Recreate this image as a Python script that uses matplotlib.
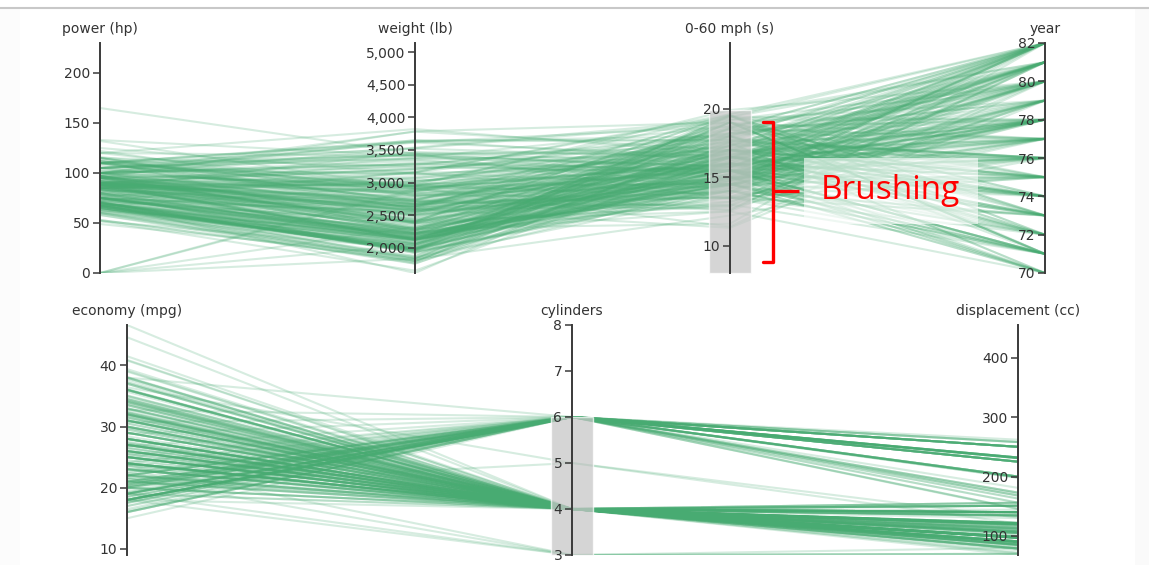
import matplotlib
matplotlib.use('Agg')
import matplotlib.pyplot as plt
from matplotlib.collections import LineCollection
from matplotlib.patches import Rectangle
from matplotlib.lines import Line2D
from matplotlib.ticker import FuncFormatter, FixedLocator
import numpy as np

# ---------------- data (cars with 3-6 cylinders, 0-60 mph <= ~20 s) ----------------
economy = [
    22, 18, 21, 27, 25, 24, 25, 26, 21, 24,
    28, 25, 19, 16, 17, 19, 18, 27, 18, 22, 19, 18, 23, 28, 30, 30, 31, 35, 27, 25,
    24, 25, 21, 20, 19, 26, 22, 28, 23, 28, 27, 18, 22, 21,
    18, 23, 18, 16, 18, 20, 24, 18, 29, 26, 21, 19, 22, 20, 19, 24, 20,
    31, 19, 21, 24, 31, 24, 26, 26, 31, 29, 26, 32, 25, 16, 16, 18, 28,
    18, 18, 15, 21, 29, 23, 20, 23, 24, 25, 24, 18, 29, 19, 23, 23, 22, 25, 33,
    28, 25, 25, 26, 27, 29, 33, 20, 18.5, 17.5, 29.5, 32, 28, 26.5, 20, 19, 16.5, 22, 22, 24, 22.5,
    31.5, 30, 36, 25.5, 33.5, 17.5, 20.5, 19, 18.5, 29, 24.5, 26, 25.5, 30.5, 33.5, 30, 30.5, 22, 21.5, 21.5,
    36.1, 32.8, 39.4, 36.1, 19.2, 20.5, 20.2, 25.1, 20.5, 19.4, 20.6, 20.8, 18.6, 18.1, 17.7, 30, 27.5, 27.2,
    30.9, 21.1, 23.2, 23.8, 23.9, 20.3, 17, 21.6, 16.2, 31.5, 29.5,
    21.5, 19.8, 22.3, 20.2, 20.6, 31.9, 34.1, 35.7, 27.4, 34.2, 34.5, 31.8, 37.3, 28.4, 28.8, 26.8, 33.5,
    41.5, 38.1, 32.1, 37.2, 28, 26.4, 19.1, 34.3, 29.8, 31.3, 37, 32.2, 46.6, 27.9, 40.8, 36.4, 44.6, 40.9,
    33.8, 29.8, 32.7, 23.7, 35, 23.6, 32.4,
    27.2, 26.6, 25.8, 23.5, 30, 39.1, 39, 35.1, 32.3, 37, 37.7, 34.1, 34.7, 34.4, 33, 34.5, 33.7, 32.4,
    32.9, 31.6, 30.7, 25.4, 24.2, 22.4, 20.2, 17.6,
    28, 27, 34, 31, 29, 27, 24, 36, 37, 31, 38, 36, 36, 36, 34, 38, 32, 38, 25, 38, 26, 22, 32, 36, 27, 27,
    32, 28, 31,
]
cylinders = [
    6, 6, 6, 4, 4, 4, 4, 4, 6, 4,
    4, 4, 6, 6, 6, 6, 6, 4, 6, 4, 6, 6, 4, 4, 4, 4, 4, 4, 4, 4,
    4, 4, 4, 4, 3, 4, 4, 4, 4, 4, 4, 4, 4, 4,
    6, 6, 6, 6, 6, 6, 4, 3, 4, 4, 4, 4, 4, 4, 4, 4, 4,
    4, 6, 6, 4, 4, 4, 4, 4, 4, 4, 4, 4, 4, 6, 6, 6, 4,
    6, 6, 6, 6, 4, 4, 6, 4, 4, 4, 4, 6, 4, 6, 4, 4, 4, 4, 4,
    4, 4, 4, 4, 4, 4, 4, 6, 6, 6, 4, 4, 4, 4, 4, 6, 6, 6, 6, 6, 6,
    4, 4, 4, 4, 4, 6, 6, 6, 6, 4, 4, 4, 4, 4, 4, 4, 4, 6, 4, 3,
    4, 4, 4, 4, 6, 6, 6, 4, 6, 6, 6, 6, 6, 6, 6, 4, 4, 4,
    4, 4, 4, 4, 4, 5, 6, 4, 6, 4, 4,
    6, 6, 4, 6, 6, 4, 4, 4, 4, 4, 4, 4, 4, 4, 6, 6, 4,
    4, 4, 4, 4, 4, 4, 6, 4, 4, 4, 4, 4, 4, 4, 4, 5, 4, 4,
    4, 4, 6, 3, 4, 4, 4,
    4, 4, 4, 6, 4, 4, 4, 4, 4, 4, 4, 4, 4, 4, 4, 4, 4, 4,
    4, 4, 6, 6, 6, 6, 6, 6,
    4, 4, 4, 4, 4, 4, 4, 4, 4, 4, 4, 4, 4, 4, 4, 4, 4, 4, 6, 6, 4, 6, 4, 4, 4, 4,
    4, 4, 4,
]
displacement = [
    198, 199, 200, 97, 110, 107, 104, 121, 199, 113,
    140, 113, 232, 225, 250, 250, 232, 97, 258, 140, 250, 250, 122, 116, 79, 88, 71, 72, 97, 98,
    113, 97.5, 122, 140, 70, 96, 122, 97, 120, 98, 97, 121, 121, 120,
    250, 198, 232, 250, 225, 156, 121, 70, 68, 98, 140, 122, 108, 114, 121, 116, 97,
    79, 232, 200, 90, 79, 120, 122, 108, 76, 98, 79, 83, 140, 250, 258, 225, 90,
    225, 250, 250, 231, 97, 140, 232, 140, 134, 90, 119, 171, 90, 232, 115, 120, 121, 121, 91,
    107, 116, 140, 98, 101, 90, 91, 225, 250, 258, 97, 85, 97, 140, 130, 156, 168, 250, 225, 200, 232,
    98, 111, 79, 122, 85, 250, 231, 225, 250, 97, 151, 97, 140, 98, 98, 97, 97, 146, 121, 80,
    98, 78, 85, 91, 231, 200, 200, 140, 225, 232, 231, 200, 225, 258, 231, 98, 134, 119,
    105, 134, 156, 151, 119, 131, 163, 121, 163, 89, 98,
    231, 200, 140, 232, 225, 89, 86, 98, 121, 105, 105, 85, 91, 151, 173, 173, 151,
    98, 89, 98, 86, 151, 140, 225, 97, 134, 120, 119, 108, 86, 156, 85, 121, 91, 85,
    97, 89, 168, 70, 122, 140, 107,
    135, 151, 156, 173, 135, 79, 86, 81, 97, 85, 89, 91, 105, 98, 105, 100, 107, 108,
    119, 120, 145, 168, 146, 231, 200, 225,
    112, 112, 112, 112, 135, 151, 140, 105, 91, 91, 105, 98, 120, 107, 108, 91, 91, 91, 181, 262, 156, 232,
    144, 135, 151, 140, 135, 120, 119,
]
power = [
    95, 97, 85, 88, 87, 90, 95, 113, 90, 95,
    90, 95, 100, 105, 100, 88, 100, 88, 110, 72, 100, 88, 86, 90, 70, 76, 65, 69, 60, 0,
    95, 80, 86, 90, 97, 69, 86, 92, 97, 80, 88, 112, 76, 87,
    88, 95, 100, 100, 105, 122, 110, 90, 49, 90, 72, 85, 94, 91, 112, 75, 88,
    67, 100, 0, 75, 67, 97, 80, 93, 52, 83, 67, 61, 75, 100, 110, 105, 75,
    95, 105, 72, 110, 75, 83, 100, 78, 96, 71, 97, 97, 70, 90, 95, 88, 98, 115, 53,
    86, 81, 92, 79, 83, 70, 53, 100, 110, 95, 71, 70, 75, 72, 102, 108, 120, 105, 100, 81, 90,
    68, 80, 58, 96, 70, 110, 105, 100, 98, 78, 88, 75, 89, 63, 83, 67, 78, 97, 110, 110,
    66, 52, 70, 60, 105, 95, 85, 88, 100, 90, 105, 85, 110, 120, 165, 68, 95, 97,
    75, 95, 105, 85, 97, 103, 125, 115, 133, 71, 68,
    115, 85, 88, 90, 110, 71, 65, 80, 80, 70, 70, 65, 69, 90, 115, 115, 90,
    76, 60, 70, 65, 90, 88, 90, 78, 90, 75, 92, 75, 65, 105, 65, 67, 67, 0,
    67, 62, 132, 100, 88, 0, 72,
    84, 84, 92, 110, 84, 58, 64, 60, 67, 65, 62, 68, 63, 65, 74, 0, 75, 75,
    100, 74, 76, 116, 120, 110, 88, 85,
    88, 88, 88, 85, 84, 90, 92, 74, 68, 68, 63, 70, 88, 75, 70, 67, 67, 67, 110, 85, 92, 112,
    96, 84, 90, 86, 84, 79, 82,
]
weight = [
    2833, 2774, 2587, 2130, 2672, 2430, 2375, 2234, 2648, 2372,
    2264, 2228, 2634, 3439, 3329, 3302, 3288, 2130, 2962, 2408, 3282, 3139, 2220, 2123, 2074, 2065, 1773,
    1613, 1834, 2046,
    2278, 2126, 2226, 2408, 2330, 2189, 2395, 2288, 2506, 2164, 2100, 2933, 2511, 2979,
    3021, 2904, 2945, 3278, 3121, 2807, 2660, 2124, 1867, 2265, 2401, 2310, 2379, 2582, 2868, 2158, 2279,
    1950, 2901, 2875, 2108, 2000, 2489, 2451, 2391, 1649, 2219, 1963, 2003, 2542, 3781, 3632, 3613, 2125,
    3785, 3459, 3158, 3039, 2171, 2639, 2914, 2592, 2702, 2223, 2545, 2984, 1937, 3211, 2694, 2957, 2945,
    2671, 1795,
    2464, 2220, 2572, 2255, 2202, 1937, 1795, 3651, 3645, 3193, 1825, 1990, 2155, 2565, 3150, 2930, 3820,
    3353, 3233, 3012, 3085,
    2045, 2155, 1825, 2300, 1945, 3520, 3425, 3630, 3525, 1940, 2740, 2265, 2755, 2051, 2075, 1985, 2190,
    2815, 2600, 2720,
    1800, 1985, 2070, 1800, 3535, 3155, 2965, 2720, 3430, 3210, 3380, 3070, 3620, 3410, 3445, 2155, 2560,
    2300, 2230, 2515, 2745, 2855, 2405, 2830, 3140, 2795, 3410, 1990, 2135,
    3245, 2990, 2890, 3265, 3360, 1925, 1975, 1915, 2670, 2200, 2150, 2020, 2130, 2670, 2595, 2700, 2556,
    2144, 1968, 2120, 2019, 2678, 2870, 3381, 2188, 2711, 2542, 2434, 2265, 2110, 2800, 2110, 2950, 1850,
    1835, 2145, 1845, 2910, 2420, 2500, 2905, 2290,
    2490, 2635, 2620, 2725, 2385, 1755, 1875, 1760, 2065, 1975, 2050, 1985, 2215, 2045, 2190, 2320, 2210,
    2350, 2615, 2635, 3160, 2900, 2930, 3415, 3060, 3465,
    2605, 2640, 2395, 2575, 2525, 2735, 2865, 1980, 2025, 1970, 2125, 2125, 2160, 2205, 2245, 1965, 1965,
    1995, 2945, 3015, 2585, 2835, 2665, 2370, 2950, 2790, 2295, 2625, 2720,
]
accel = [
    15.5, 15.5, 16, 14.5, 17.5, 14.5, 17.5, 12.5, 15, 15,
    15.5, 14, 13, 15.5, 15.5, 15.5, 15.5, 14.5, 13.5, 19, 15, 14.5, 14, 14, 19.5, 14.5, 19, 18, 19, 19,
    15.5, 17, 16.5, 19.5, 13.5, 18, 16, 17, 14.5, 15, 16.5, 14.5, 18, 19.5,
    16.5, 16, 16, 18, 16.5, 13.5, 14, 13.5, 19.5, 15.5, 19.5, 18.5, 16.5, 14, 15.5, 15.5, 19,
    19, 16, 17, 15.5, 16, 15, 16.5, 15.5, 16.5, 16.5, 15.5, 19, 17, 17, 18, 16.5, 14.5,
    19, 16, 19.5, 15, 16, 17, 16, 18.5, 13.5, 16.5, 17, 14.5, 14, 17, 15, 17, 14.5, 13.5, 17.5,
    15.5, 16.9, 14.9, 17.7, 15.3, 14.2, 17.4, 17.7, 16.2, 17.8, 12.2, 17, 16.4, 13.6, 15.7, 15.5, 16.7,
    14.5, 15.4, 17.6, 17.6,
    18.5, 14.8, 18.6, 15.5, 16.8, 16.4, 16.9, 17.7, 19, 14.5, 16, 18.2, 15.8, 17, 15.9, 16.4, 14.1, 14.5,
    12.8, 13.5,
    14.4, 19.4, 18.6, 16.4, 19.2, 18.2, 15.8, 15.4, 17.2, 17.2, 15.8, 16.7, 18.7, 15.1, 13.4, 16.5, 14.2,
    14.7, 14.5, 14.8, 16.7, 17.6, 14.9, 15.9, 13.6, 15.7, 15.8, 14.9, 16.6,
    15.4, 18.2, 17.3, 18.2, 16.6, 14, 15.2, 14.4, 15, 13.2, 14.9, 19.2, 14.7, 16, 11.3, 12.9, 13.2,
    14.7, 18.8, 15.5, 16.4, 16.5, 18.1, 18.7, 15.8, 15.5, 17.5, 15, 15.2, 17.9, 14.4, 19.2, 19.9, 13.8,
    17.3, 18, 15.3, 11.4, 12.5, 15.1, 14.3, 17,
    15.7, 16.4, 14.4, 12.6, 12.9, 16.9, 16.4, 16.1, 17.8, 19.4, 17.3, 16, 14.9, 16.2, 14.2, 15.8, 14.4,
    16.8, 14.8, 18.3, 19.6, 12.6, 13.8, 15.8, 17.1, 16.6,
    19.6, 18.6, 18, 16.2, 16, 18, 16.4, 15.3, 18.2, 17.6, 14.7, 17.3, 14.5, 14.5, 16.9, 15, 15.7, 16.2,
    16.4, 17, 14.5, 14.7, 13.9, 13, 17.3, 15.6, 11.6, 18.6, 19.4,
]
year = [
    70, 70, 70, 70, 70, 70, 70, 70, 70, 70,
    71, 71, 71, 71, 71, 71, 71, 71, 71, 71, 71, 71, 71, 71, 71, 71, 71, 71, 71, 71,
    72, 72, 72, 72, 72, 72, 72, 72, 72, 72, 72, 72, 72, 72,
    73, 73, 73, 73, 73, 73, 73, 73, 73, 73, 73, 73, 73, 73, 73, 73, 73,
    74, 74, 74, 74, 74, 74, 74, 74, 74, 74, 74, 74, 74, 74, 74, 74, 74,
    75, 75, 75, 75, 75, 75, 75, 75, 75, 75, 75, 75, 75, 75, 75, 75, 75, 75, 75,
    76, 76, 76, 76, 76, 76, 76, 76, 76, 76, 76, 76, 76, 76, 76, 76, 76, 76, 76, 76, 76,
    77, 77, 77, 77, 77, 77, 77, 77, 77, 77, 77, 77, 77, 77, 77, 77, 77, 77, 77, 77,
    78, 78, 78, 78, 78, 78, 78, 78, 78, 78, 78, 78, 78, 78, 78, 78, 78, 78,
    78, 78, 78, 78, 78, 78, 78, 78, 78, 78, 78,
    79, 79, 79, 79, 79, 79, 79, 79, 79, 79, 79, 79, 79, 79, 79, 79, 79,
    80, 80, 80, 80, 80, 80, 80, 80, 80, 80, 80, 80, 80, 80, 80, 80, 80, 80,
    80, 80, 80, 80, 80, 80, 80,
    81, 81, 81, 81, 81, 81, 81, 81, 81, 81, 81, 81, 81, 81, 81, 81, 81, 81,
    81, 81, 81, 81, 81, 81, 81, 81,
    82, 82, 82, 82, 82, 82, 82, 82, 82, 82, 82, 82, 82, 82, 82, 82, 82, 82, 82, 82, 82, 82, 82, 82, 82, 82,
    82, 82, 82,
]

# axis definitions: title, values, domain, ticks
top_dims = [
    ("power (hp)", power, (0, 230), [0, 50, 100, 150, 200]),
    ("weight (lb)", weight, (1613, 5140), [2000, 2500, 3000, 3500, 4000, 4500, 5000]),
    ("0-60 mph (s)", accel, (8, 24.8), [10, 15, 20]),
    ("year", year, (70, 82), [70, 72, 74, 76, 78, 80, 82]),
]
bottom_dims = [
    ("economy (mpg)", economy, (9, 46.6), [10, 20, 30, 40]),
    ("cylinders", cylinders, (3, 8), [3, 4, 5, 6, 7, 8]),
    ("displacement (cc)", displacement, (68, 455), [100, 200, 300, 400]),
]
brush_accel = (8, 19.9)
brush_cyl = (3, 6)

# ---------------- layout ----------------
W, H = 1149, 565
fig = plt.figure(figsize=(W / 100, H / 100), dpi=100)
fig.patch.set_facecolor('white')


def fx(px):
    return px / W


def fy(py):
    return 1 - py / H


LINE_COLOR = '#48ab72'
AXIS_COLOR = '#3a3a3a'
TEXT_COLOR = '#333333'

# page decorations
fig.patches.append(Rectangle((fx(1135), 0), 1 - fx(1135), fy(9), transform=fig.transFigure,
                             facecolor='#fafafa', edgecolor='none', zorder=-5))
fig.patches.append(Rectangle((0, 0), fx(20), fy(9), transform=fig.transFigure,
                             facecolor='#fcfcfc', edgecolor='none', zorder=-5))
fig.lines.append(Line2D([0, 1], [fy(8), fy(8)], transform=fig.transFigure,
                        color='#c8c8c8', lw=1.5, zorder=-4))


def thousands(v, pos):
    return f"{v:,.0f}"


def panel(dims, xs_px, y_top, y_bot, brush):
    ax = fig.add_axes([fx(xs_px[0]), fy(y_bot), fx(xs_px[-1]) - fx(xs_px[0]), (y_bot - y_top) / H])
    ax.set_xlim(xs_px[0], xs_px[-1])
    ax.set_ylim(0, 1)
    ax.axis('off')

    norm = []
    for (_, vals, (lo, hi), _) in dims:
        norm.append((np.asarray(vals, dtype=float) - lo) / (hi - lo))
    norm = np.array(norm)
    segs = [np.column_stack([xs_px, norm[:, i]]) for i in range(norm.shape[1])]
    lc = LineCollection(segs, colors=LINE_COLOR, alpha=0.22, linewidths=1.5, zorder=2)
    ax.add_collection(lc)

    if brush is not None:
        idx, (b0, b1) = brush
        lo, hi = dims[idx][2]
        y0 = (b0 - lo) / (hi - lo)
        y1 = (b1 - lo) / (hi - lo)
        ax.add_patch(Rectangle((xs_px[idx] - 21, y0), 42, y1 - y0, facecolor='#c6c6c6',
                               alpha=0.72, edgecolor='white', lw=1.0, zorder=4, clip_on=False))

    for (title, vals, (lo, hi), ticks), xp in zip(dims, xs_px):
        tax = fig.add_axes([fx(xp), fy(y_bot), 0.0004, (y_bot - y_top) / H])
        tax.set_ylim(lo, hi)
        tax.patch.set_visible(False)
        for s in ('top', 'right', 'bottom'):
            tax.spines[s].set_visible(False)
        tax.spines['left'].set_color(AXIS_COLOR)
        tax.spines['left'].set_linewidth(1.4)
        tax.set_xticks([])
        tax.yaxis.set_major_locator(FixedLocator(ticks))
        if title.startswith('weight'):
            tax.yaxis.set_major_formatter(FuncFormatter(thousands))
        else:
            tax.yaxis.set_major_formatter(FuncFormatter(lambda v, p: f"{v:.0f}"))
        tax.tick_params(axis='y', direction='out', length=5, width=1.1, color=AXIS_COLOR,
                        labelsize=10, labelcolor=TEXT_COLOR, pad=2)
        fig.text(fx(xp), fy(y_top - 14), title, ha='center', va='center', fontsize=10,
                 color=TEXT_COLOR)
    return ax


ax_top = panel(top_dims, [100, 415, 730, 1045], 43, 273, (2, brush_accel))
ax_bot = panel(bottom_dims, [127, 572, 1018], 325, 555, (1, brush_cyl))

# ---------------- annotation ----------------
red = '#ff0000'
bx = [763, 773, 773, 763]
by = [122, 122, 262, 262]
fig.lines.append(Line2D([fx(v) for v in bx], [fy(v) for v in by], transform=fig.transFigure,
                        color=red, lw=2.4, solid_joinstyle='round', solid_capstyle='round', zorder=6))
fig.lines.append(Line2D([fx(773), fx(799)], [fy(191), fy(191)], transform=fig.transFigure,
                        color=red, lw=2.4, solid_capstyle='butt', zorder=6))
fig.patches.append(Rectangle((fx(804), fy(224)), fx(978) - fx(804), (224 - 158) / H,
                             transform=fig.transFigure, facecolor='white', alpha=0.6,
                             edgecolor='none', zorder=5))
fig.text(fx(890), fy(190), "Brushing", ha='center', va='center', fontsize=24, color=red,
         family=['Open Sans', 'DejaVu Sans'], zorder=7)

fig.savefig('out.png', dpi=100, facecolor='white')
